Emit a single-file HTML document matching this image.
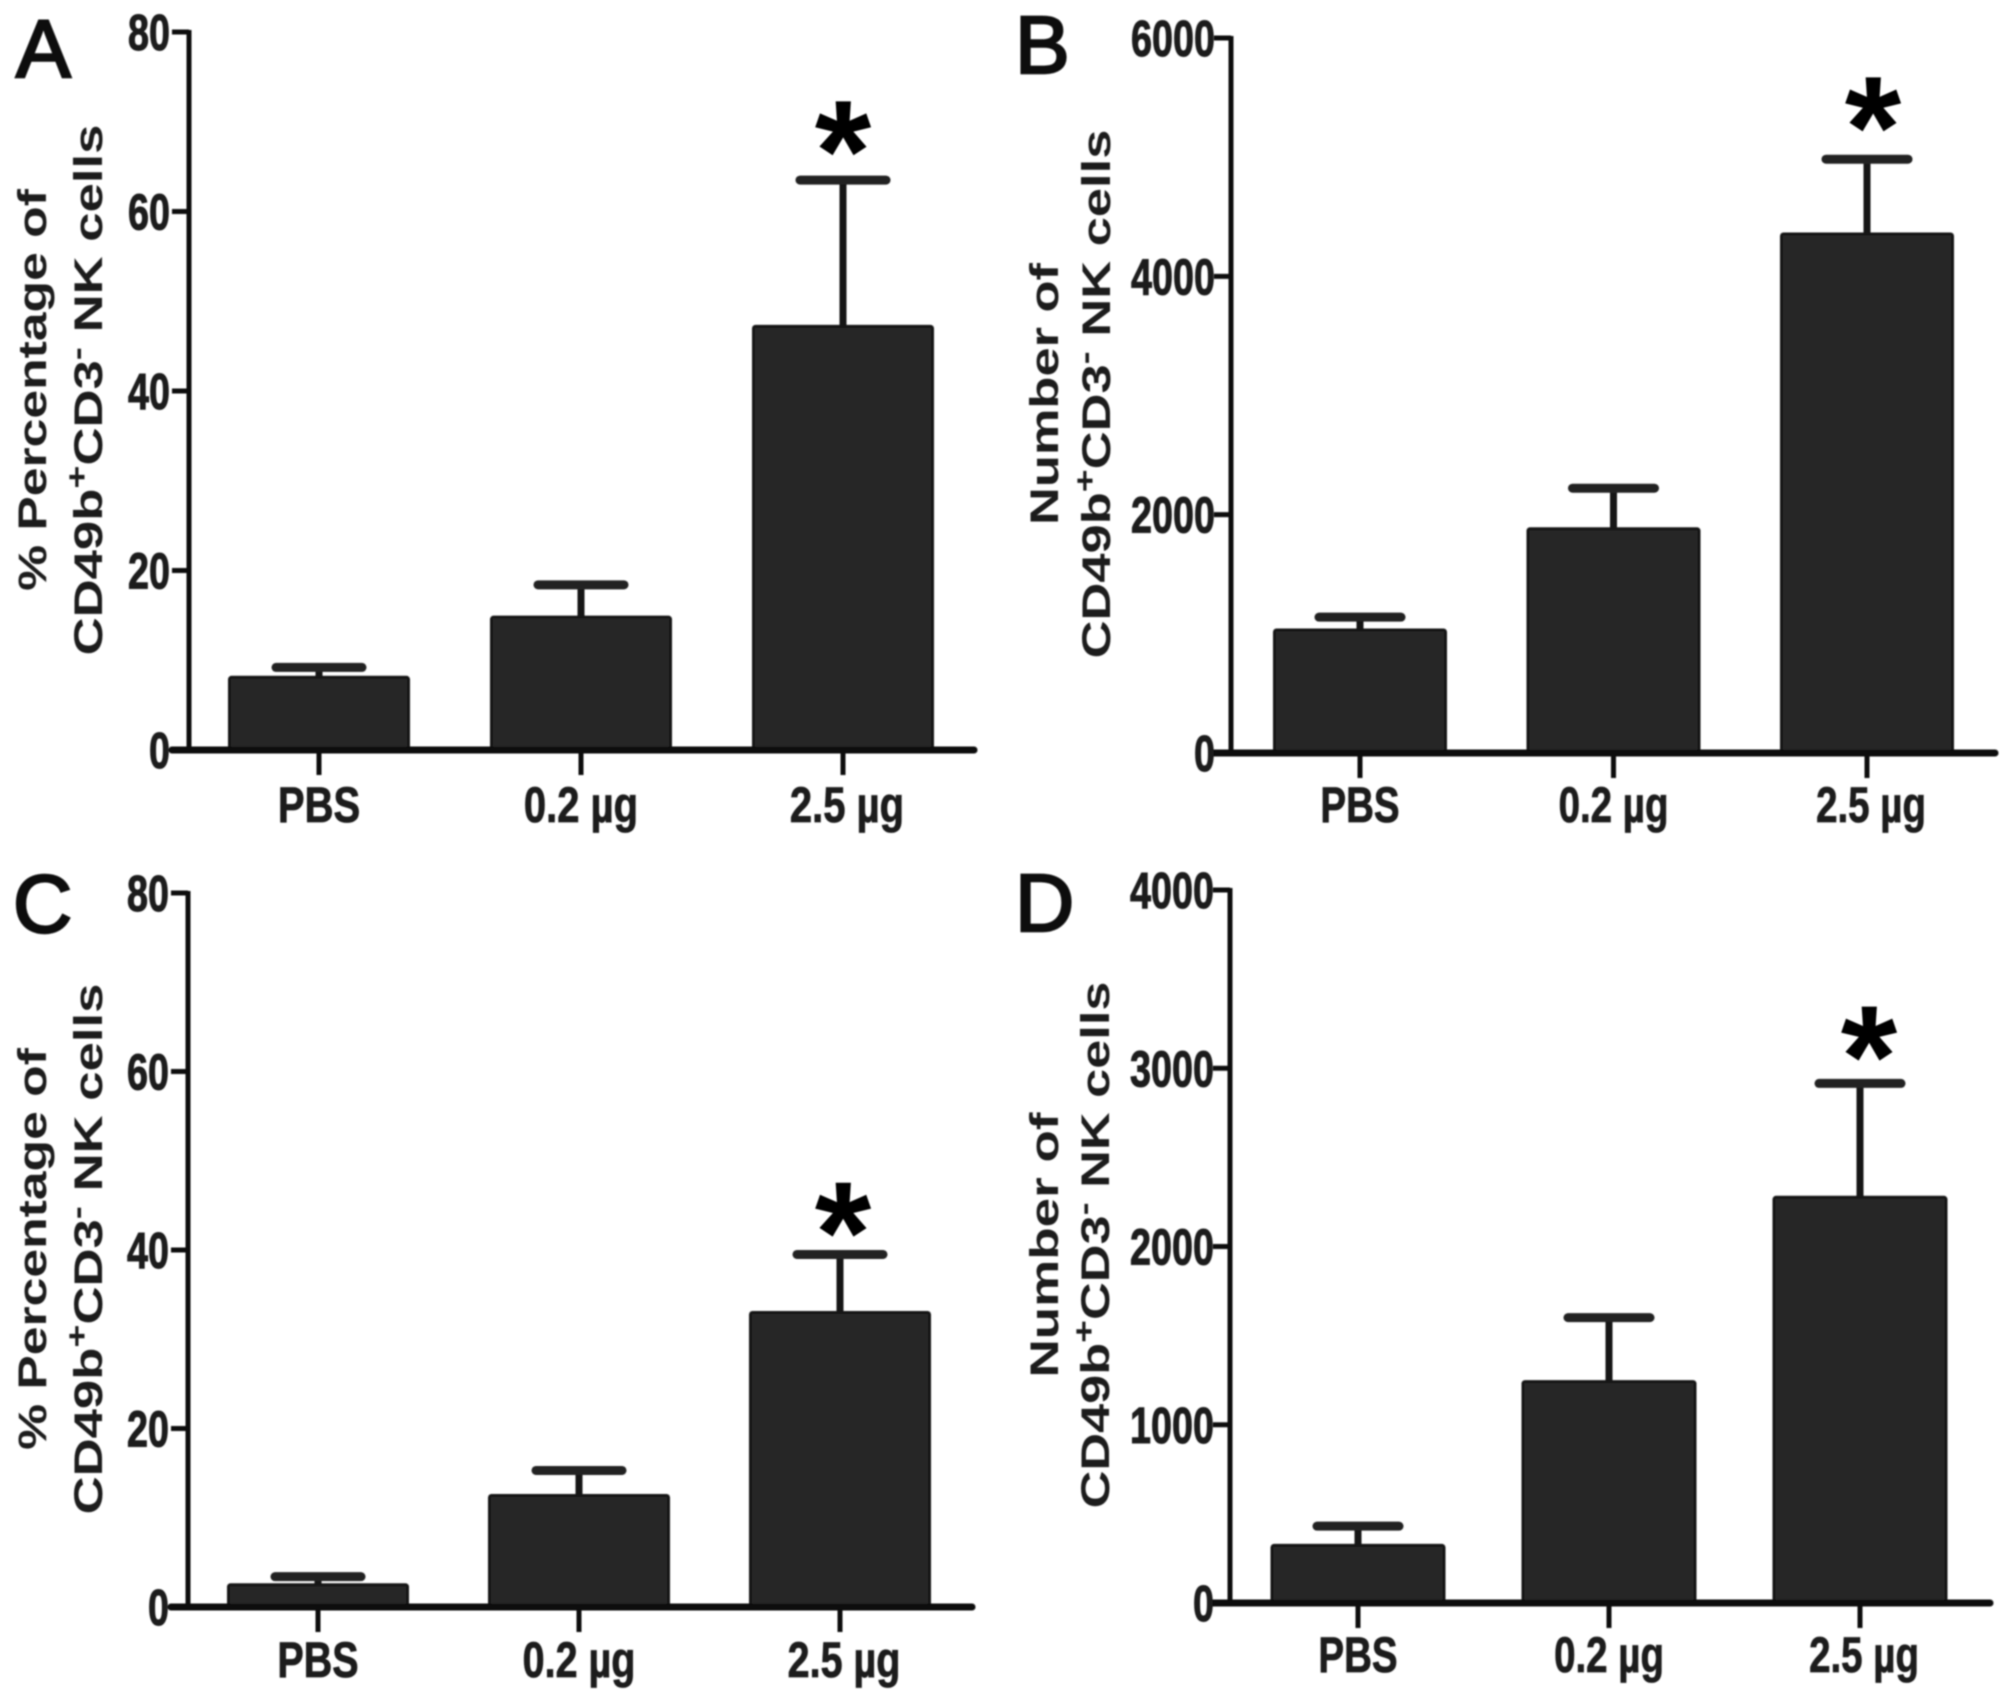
<!DOCTYPE html>
<html lang="en">
<head>
<meta charset="utf-8">
<title>CD49b+CD3- NK cells</title>
<style>
  html, body { margin: 0; padding: 0; background: #fff; }
  svg { display: block; font-family: "Liberation Sans", sans-serif; }
</style>
</head>
<body>
<svg id="figure" xmlns="http://www.w3.org/2000/svg" width="2008" height="1704" viewBox="0 0 2008 1704">
  <defs>
    <filter id="soft" x="-2%" y="-2%" width="104%" height="104%"><feGaussianBlur stdDeviation="0.9"/></filter>
  </defs>
  <rect width="2008" height="1704" fill="#fff"/>
  <g id="root" filter="url(#soft)"></g>
</svg>
<script>
// Shared categories
const categories = ['PBS', '0.2 µg', '2.5 µg'];

// Panel A
const panelAMeans = [8.1, 14.8, 47.2];
const panelAErrors = [1.1, 3.6, 16.3];
const panelATicks = [0, 20, 40, 60, 80];
const panelAStars = [false, false, true];

// Panel B
const panelBMeans = [1032, 1882, 4355];
const panelBErrors = [108, 340, 628];
const panelBTicks = [0, 2000, 4000, 6000];
const panelBStars = [false, false, true];

// Panel C
const panelCMeans = [2.5, 12.5, 33.0];
const panelCErrors = [0.9, 2.8, 6.5];
const panelCTicks = [0, 20, 40, 60, 80];
const panelCStars = [false, false, true];

// Panel D
const panelDMeans = [323, 1242, 2276];
const panelDErrors = [108, 359, 639];
const panelDTicks = [0, 1000, 2000, 3000, 4000];
const panelDStars = [false, false, true];

const SVG_NS = 'http://www.w3.org/2000/svg';
const root = document.getElementById('root');

function make(tag, attrs, parent) {
  const node = document.createElementNS(SVG_NS, tag);
  for (const key in attrs) node.setAttribute(key, attrs[key]);
  parent.appendChild(node);
  return node;
}

function fitLine(node, cx, cy, targetLength) {
  node.setAttribute('transform', 'translate(' + cx + ',' + cy + ') rotate(-90)');
  const natural = node.getComputedTextLength();
  node.setAttribute('transform', 'translate(' + cx + ',' + cy + ') rotate(-90) scale(' + (targetLength / natural) + ',1)');
}

function drawPanel(cfg) {
  const panel = make('g', {}, root);
  
  

  const yMax = cfg.ticks[cfg.ticks.length - 1];
  const yScale = function (v) { return cfg.yBottom - (v / yMax) * (cfg.yBottom - cfg.yTop); };
  const xScale = function (i) { return cfg.xFirst + i * cfg.xStep; };

  // Panel letter
  const letter = make('text', { x: cfg.letterX, y: cfg.letterY, 'font-size': 82, fill: '#0c0c0c', stroke: '#0c0c0c', 'stroke-width': 2.5 }, panel);
  letter.textContent = cfg.letter;
  
  

  // Y axis titles
  const title1 = make('text', { 'font-size': 40, 'font-weight': 700, fill: '#1a1a1a', 'text-anchor': 'middle' }, panel);
  title1.textContent = cfg.title1;
  
  
  fitLine(title1, cfg.title1X, cfg.titleY, cfg.title1Length);

  const title2 = make('text', { 'font-size': 40, 'font-weight': 700, fill: '#1a1a1a', 'text-anchor': 'middle' }, panel);
  
  
  const parts = [['CD49b', 0, 40], ['+', -15, 30], ['CD3', 15, 40], ['-', -15, 30], [' NK cells', 15, 40]];
  parts.forEach(function (p) {
    const span = make('tspan', { dy: p[1], 'font-size': p[2] }, title2);
    span.textContent = p[0];
  });
  fitLine(title2, cfg.title2X, cfg.titleY, cfg.title2Length);

  // Bars, error bars, stars
  cfg.means.forEach(function (mean, i) {
    const cx = xScale(i);
    const topY = yScale(mean);
    const capY = yScale(mean + cfg.errors[i]);

    const stem = make('line', { x1: cx, x2: cx, y1: capY, y2: topY, stroke: '#141414', 'stroke-width': 7 }, panel);
    
    

    const cap = make('line', { x1: cx - cfg.capHalf, x2: cx + cfg.capHalf, y1: capY, y2: capY, stroke: '#222', 'stroke-width': 9, 'stroke-linecap': 'round' }, panel);
    
    

    const bar = make('rect', { x: cx - cfg.barWidth / 2, y: topY, width: cfg.barWidth, height: cfg.yBottom - topY, fill: '#272727', stroke: '#141414', 'stroke-width': 3, rx: 2 }, panel);
    
    

    const tick = make('line', { x1: cx, x2: cx, y1: cfg.yBottom, y2: cfg.yBottom + 25, stroke: '#111', 'stroke-width': 5 }, panel);
    
    

    const labelX = cx + (i === 2 ? cfg.lastLabelDx : 0);
    const label = make('text', { transform: 'translate(' + labelX + ',' + (cfg.yBottom + cfg.labelDrop) + ') scale(' + cfg.labelScale + ',1)', 'font-size': 50, 'font-weight': 700, fill: '#1a1a1a', stroke: '#1a1a1a', 'stroke-width': 0.8, 'text-anchor': 'middle' }, panel);
    label.textContent = categories[i];
    
    

    if (cfg.stars[i]) {
      const star = make('text', { x: cx + cfg.starDx, y: capY + cfg.starOffset, 'font-size': 145, 'font-weight': 700, fill: '#000', 'text-anchor': 'middle' }, panel);
      star.textContent = '*';
      
      
    }
  });

  // Axes
  const yAxis = make('line', { x1: cfg.axisX, x2: cfg.axisX, y1: cfg.yTop - 2, y2: cfg.yBottom, stroke: '#111', 'stroke-width': 5 }, panel);
  
  

  const xAxis = make('line', { x1: cfg.axisX - 17, x2: cfg.xAxisEnd, y1: cfg.yBottom, y2: cfg.yBottom, stroke: '#0c0c0c', 'stroke-width': 7, 'stroke-linecap': 'round' }, panel);
  
  

  cfg.ticks.forEach(function (t) {
    const y = yScale(t);
    const tick = make('line', { x1: cfg.axisX - 17, x2: cfg.axisX, y1: y, y2: y, stroke: '#111', 'stroke-width': 5 }, panel);
    
    

    const label = make('text', { transform: 'translate(' + (cfg.axisX - cfg.tickGap) + ',' + (y + 18) + ') scale(0.74,1)', 'font-size': 51, 'font-weight': 700, fill: '#1a1a1a', stroke: '#1a1a1a', 'stroke-width': 1, 'text-anchor': 'end' }, panel);
    label.textContent = String(t);
    
    
  });
}

drawPanel({
  letter: 'A', letterX: 16, letterY: 77,
  title1: '% Percentage of', title1X: 46, title1Length: 402,
  title2X: 102, title2Length: 531, titleY: 390,
  means: panelAMeans, errors: panelAErrors, ticks: panelATicks, stars: panelAStars,
  axisX: 189, xAxisEnd: 974, yTop: 32, yBottom: 750, tickGap: 19,
  xFirst: 319, xStep: 262, barWidth: 179, capHalf: 43, starOffset: 21, starDx: 0,
  labelDrop: 72, labelScale: 0.8, lastLabelDx: 4
});
drawPanel({
  letter: 'B', letterX: 1015, letterY: 73,
  title1: 'Number of', title1X: 1058, title1Length: 262,
  title2X: 1110, title2Length: 529, titleY: 394,
  means: panelBMeans, errors: panelBErrors, ticks: panelBTicks, stars: panelBStars,
  axisX: 1231, xAxisEnd: 1995, yTop: 38, yBottom: 753, tickGap: 16,
  xFirst: 1360, xStep: 253.5, barWidth: 171, capHalf: 41, starOffset: 18, starDx: 6,
  labelDrop: 69, labelScale: 0.77, lastLabelDx: 4
});
drawPanel({
  letter: 'C', letterX: 13, letterY: 932,
  title1: '% Percentage of', title1X: 46, title1Length: 402,
  title2X: 102, title2Length: 531, titleY: 1249,
  means: panelCMeans, errors: panelCErrors, ticks: panelCTicks, stars: panelCStars,
  axisX: 188, xAxisEnd: 972, yTop: 893, yBottom: 1607, tickGap: 19,
  xFirst: 318, xStep: 261, barWidth: 179, capHalf: 43, starOffset: 28, starDx: 3,
  labelDrop: 70, labelScale: 0.79, lastLabelDx: 4
});
drawPanel({
  letter: 'D', letterX: 1015, letterY: 931,
  title1: 'Number of', title1X: 1058, title1Length: 265,
  title2X: 1109, title2Length: 527, titleY: 1245,
  means: panelDMeans, errors: panelDErrors, ticks: panelDTicks, stars: panelDStars,
  axisX: 1230, xAxisEnd: 1990, yTop: 890, yBottom: 1603, tickGap: 16,
  xFirst: 1358, xStep: 251, barWidth: 172, capHalf: 41, starOffset: 23, starDx: 9,
  labelDrop: 69, labelScale: 0.77, lastLabelDx: 4
});
</script>
</body>
</html>
